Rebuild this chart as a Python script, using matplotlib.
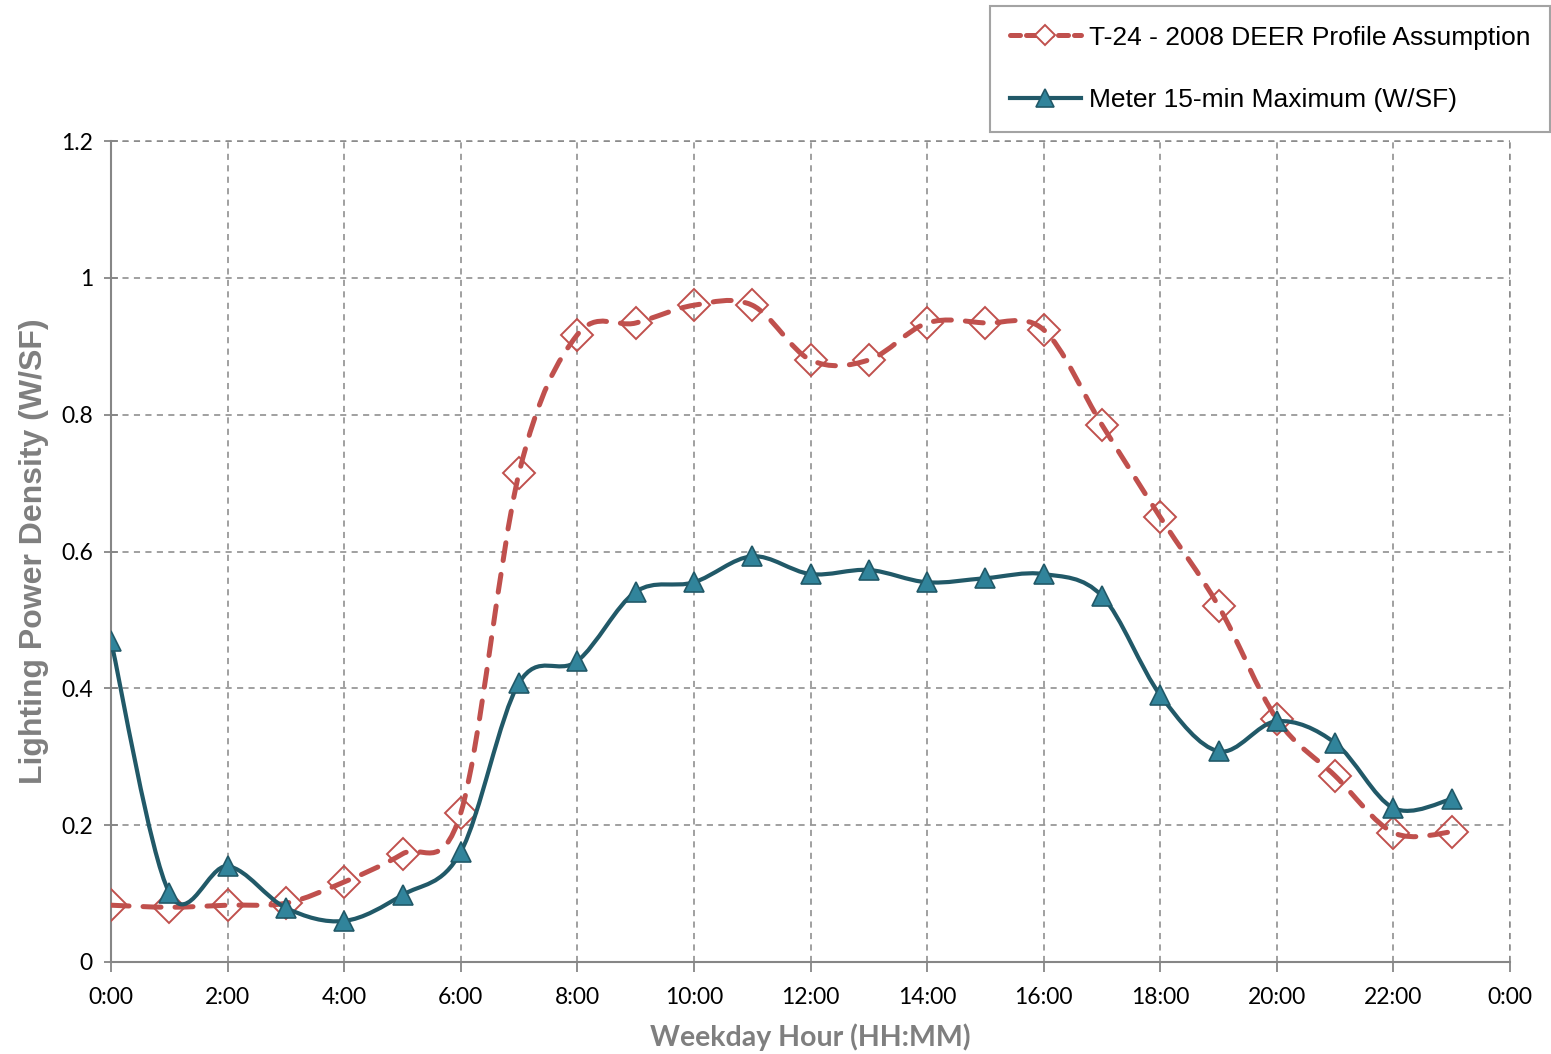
import numpy as np
import matplotlib
matplotlib.use('Agg')
import matplotlib.pyplot as plt
from matplotlib.path import Path
from matplotlib.patches import PathPatch
from matplotlib.lines import Line2D

# ── data ────────────────────────────────────────────────────────────────
hours = list(range(24))
deer_profile = [0.083, 0.080, 0.083, 0.086, 0.117, 0.158, 0.218, 0.715,
                0.917, 0.934, 0.960, 0.960, 0.880, 0.880, 0.934, 0.934,
                0.924, 0.785, 0.650, 0.520, 0.355, 0.272, 0.189, 0.190]
meter_max = [0.469, 0.101, 0.140, 0.079, 0.060, 0.098, 0.161, 0.408,
             0.440, 0.541, 0.555, 0.593, 0.567, 0.573, 0.555, 0.561,
             0.567, 0.535, 0.390, 0.308, 0.352, 0.320, 0.225, 0.238]
x_ticks = list(range(0, 25, 2))
x_labels = [f"{h % 24}:00" for h in x_ticks]
y_ticks = [0, 0.2, 0.4, 0.6, 0.8, 1.0, 1.2]
y_labels = ['0', '0.2', '0.4', '0.6', '0.8', '1', '1.2']

RED = '#C0504D'
TEAL_LINE = '#215968'
TEAL_FILL = '#31849B'
GRID = '#868686'
LABEL_GREY = '#7F7F7F'


def smooth_path(xs, ys):
    # cubic bezier through every point (catmull-rom style control points)
    pts = np.column_stack([xs, ys]).astype(float)
    n = len(pts)
    verts = [pts[0]]
    codes = [Path.MOVETO]
    for i in range(n - 1):
        p0 = pts[i - 1] if i > 0 else pts[i]
        p1 = pts[i]
        p2 = pts[i + 1]
        p3 = pts[i + 2] if i + 2 < n else pts[i + 1]
        c1 = p1 + (p2 - p0) / 6.0
        c2 = p2 - (p3 - p1) / 6.0
        verts += [c1, c2, p2]
        codes += [Path.CURVE4] * 3
    return Path(verts, codes)


fig = plt.figure(figsize=(15.51, 10.54), dpi=100)
ax = fig.add_axes([0.0716, 0.0873, 0.902, 0.7789])

# red dashed profile
red_patch = PathPatch(smooth_path(hours, deer_profile), facecolor='none',
                      edgecolor=RED, lw=3.6, zorder=3)
red_patch.set_linestyle((0, (3.6, 2.8)))
red_patch.set_capstyle('round')
ax.add_patch(red_patch)
ax.plot(hours, deer_profile, ls='none', marker='D', ms=16, mfc='none',
        mec=RED, mew=1.4, zorder=4)

# teal meter curve
teal_patch = PathPatch(smooth_path(hours, meter_max), facecolor='none',
                       edgecolor=TEAL_LINE, lw=3.0, zorder=5)
teal_patch.set_capstyle('round')
ax.add_patch(teal_patch)
ax.plot(hours, meter_max, ls='none', marker='^', ms=14, mfc=TEAL_FILL,
        mec=TEAL_LINE, mew=1.2, zorder=6)

ax.set_xlim(0, 24)
ax.set_ylim(0, 1.2)
ax.set_xticks(x_ticks)
ax.set_xticklabels(x_labels)
ax.set_yticks(y_ticks)
ax.set_yticklabels(y_labels)

for s in ['top', 'right']:
    ax.spines[s].set_visible(False)
for s in ['left', 'bottom']:
    ax.spines[s].set_color(GRID)
    ax.spines[s].set_linewidth(1.5)
    ax.spines[s].set_zorder(2)

ax.grid(True, color=GRID, lw=1.1, ls=(0, (4, 3.5)), zorder=1)
ax.set_axisbelow(True)
# dashed outline at the top and right edge
ax.axhline(1.2, color=GRID, lw=1.1, ls=(0, (4, 3.5)), clip_on=False, zorder=1)
ax.axvline(24, color=GRID, lw=1.1, ls=(0, (4, 3.5)), clip_on=False, zorder=1)

ax.tick_params(axis='x', direction='out', length=7, width=1.3, color=GRID,
               labelsize=16.5, pad=11)
ax.tick_params(axis='y', direction='inout', length=10, width=1.3, color=GRID,
               labelsize=16.5, pad=8)
for lab in ax.get_xticklabels() + ax.get_yticklabels():
    lab.set_fontfamily(['Lato', 'DejaVu Sans'])

ax.set_xlabel('Weekday Hour (HH:MM)', fontsize=20.5, fontweight='bold',
              color=LABEL_GREY, family=['Lato', 'DejaVu Sans'], labelpad=11)
ax.set_ylabel('Lighting Power Density (W/SF)', fontsize=23, fontweight='bold',
              color=LABEL_GREY, family=['Liberation Sans', 'DejaVu Sans'],
              labelpad=9)

handles = [
    Line2D([0], [0], color=RED, lw=3.6, ls=(0, (2.0, 1.2)), marker='D', ms=10,
           mfc='white', mec=RED, mew=1.4, solid_capstyle='round',
           dash_capstyle='round'),
    Line2D([0], [0], color=TEAL_LINE, lw=3.0, marker='^', ms=13,
           mfc=TEAL_FILL, mec=TEAL_LINE, mew=1.2),
]
leg = fig.legend(handles, ['T-24 - 2008 DEER Profile Assumption',
                           'Meter 15-min Maximum (W/SF)'],
                 loc='upper right', bbox_to_anchor=(0.9995, 0.9945),
                 prop={'family': 'Liberation Sans', 'size': 19},
                 frameon=True, fancybox=False, edgecolor='#8C8C8C',
                 handlelength=2.7, handletextpad=0.3, labelspacing=1.45,
                 borderpad=0.75, borderaxespad=0)
leg.get_frame().set_linewidth(1.5)

fig.savefig('out.png', dpi=100)
